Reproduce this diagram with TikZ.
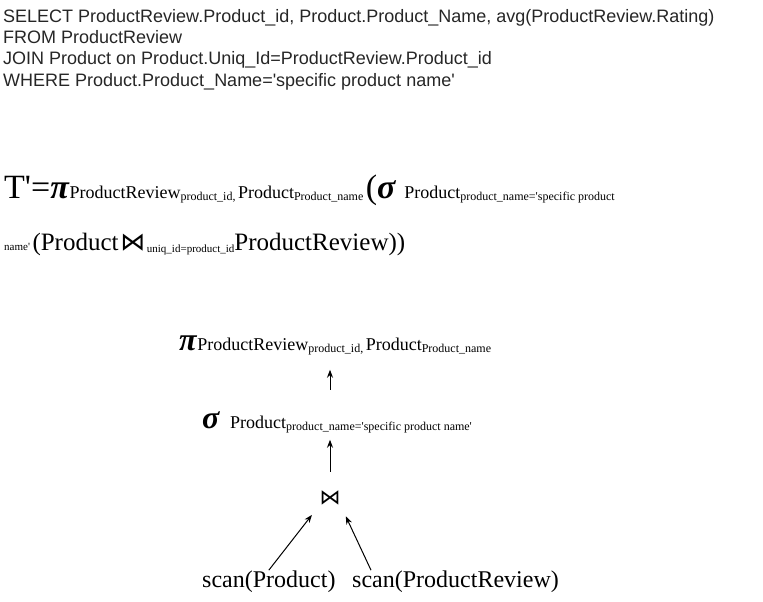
\documentclass[tikz,border=0pt]{standalone}
\usepackage{fontspec}
\setmainfont{Liberation Serif}
\setsansfont{Liberation Sans}
\newfontfamily\symfnt{DejaVu Sans}
\usetikzlibrary{positioning,arrows.meta}
\newcommand{\fsz}[1]{\fontsize{#1}{#1}\selectfont}
\newcommand{\lowsub}[2][12]{\raisebox{-2pt}{\fsz{#1}#2}}
\tikzset{
  sqlline/.style={anchor=base west, inner sep=0pt, font=\sffamily\fsz{18}, text=black!85},
  relline/.style={anchor=base west, inner sep=0pt},
  arr/.style={-{Stealth[length=8pt,width=6pt]}, line width=1pt}
}
\begin{document}
\begin{tikzpicture}[x=1pt,y=-1pt]
	\useasboundingbox (0,0) rectangle (763,602);
	%sql query
	\node[sqlline] (sel) at (3,23) {SELECT ProductReview.Product\_id, Product.Product\_Name, avg(ProductReview.Rating)};
	\node[sqlline] (from) at (3,44) {FROM ProductReview};
	\node[sqlline] (join) at (3,65) {JOIN Product on Product.Uniq\_Id=ProductReview.Product\_id};
	\node[sqlline] (where) at (3,86) {WHERE Product.Product\_Name=\textquotesingle specific product name\textquotesingle};
	
	%relational algebra
	\node[relline] (expr1) at (4,198) {{\fsz{34}T\textquotesingle=\textbf{\textit{π}}}{\fsz{18}ProductReview}\lowsub{product\_id,} {\fsz{18}Product}\lowsub{Product\_name} {\fsz{34}(\textbf{\textit{σ}}}\hspace{8pt}{\fsz{18}Product}\lowsub{product\_name=\textquotesingle specific product}};
	\node[relline] (expr2) at (4,250) {{\fsz{11}name\textquotesingle} {\fsz{25}(Product}\,{\symfnt\fsz{25}⋈}\,\lowsub[11]{uniq\_id=product\_id}{\fsz{25}ProductReview))}};
	
	%query tree
	\node[relline] (proj) at (179,350) {{\fsz{32}\textbf{\textit{π}}}{\fsz{18}ProductReview}\lowsub[12]{product\_id,} {\fsz{18}Product}\lowsub[12]{Product\_name}};
	\node[relline] (sel) at (202,428) {{\fsz{32}\textbf{\textit{σ}}}\hspace{10pt}{\fsz{18}Product}\lowsub{product\_name=\textquotesingle specific product name\textquotesingle}};
	\node[inner sep=0pt, font=\symfnt\fsz{21}] (bowtie) at (330,498) {⋈};
	\node[relline, font=\fsz{24}] (scanP) at (202,587) {scan(Product)};
	\node[relline, font=\fsz{24}] (scanR) at (352,587) {scan(ProductReview)};
	
	\draw[arr, shorten <=21pt, shorten >=15pt] (bowtie.north |- sel.north) -- (bowtie.north |- proj.south);
	\draw[arr, shorten <=19pt, shorten >=7pt] (bowtie.north) -- (bowtie.north |- sel.south);
	\draw[arr, shorten >=12pt] (scanP.north) -- (bowtie.south west);
	\draw[arr, shorten >=12pt] ([xshift=19pt]scanR.north west) -- (bowtie.south east);
\end{tikzpicture}
\end{document}
